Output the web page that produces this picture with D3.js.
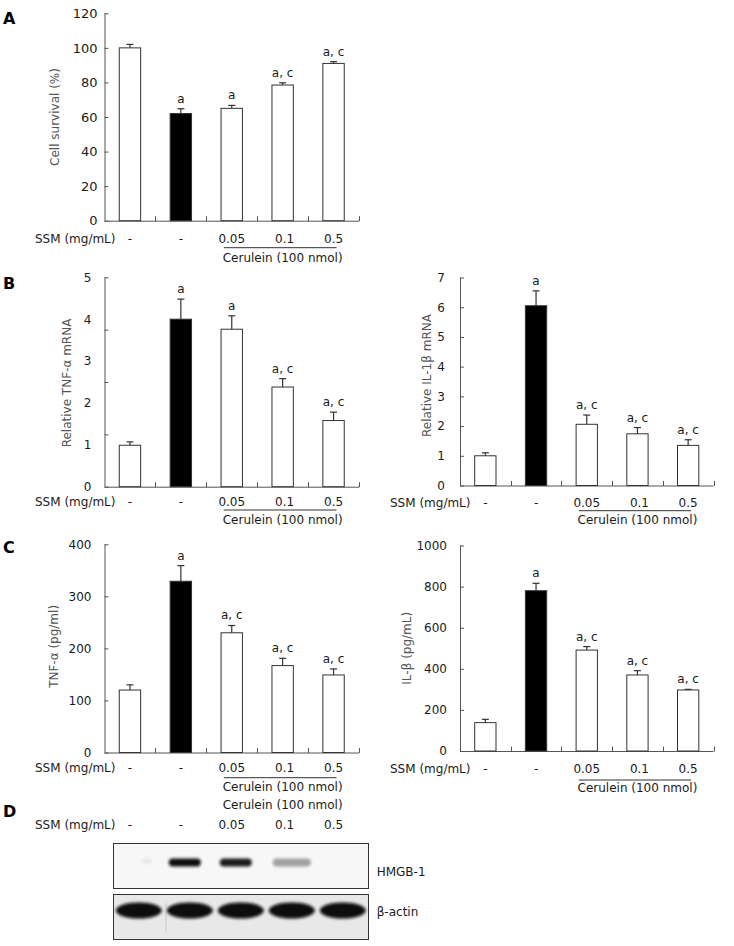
<!DOCTYPE html>
<html>
<head>
<meta charset="utf-8">
<script src="https://cdn.jsdelivr.net/npm/d3@7"></script>
<style>
  html, body { margin: 0; padding: 0; background: #fff; }
  svg { display: block; }
  text { font-family: "DejaVu Sans", Verdana, sans-serif; }
</style>
</head>
<body>
<script>
// ---------------- DATA ----------------
const groups = ["Control", "Cerulein", "SSM 0.05", "SSM 0.1", "SSM 0.5"];
const ssmLabels = ["-", "-", "0.05", "0.1", "0.5"];
const barFill = ["white", "black", "white", "white", "white"];

// Panel A: cell survival (%)
const survivalMean = [100, 62, 65, 78.5, 91];
const survivalErr  = [2, 2.8, 1.7, 1.3, 1.0];
const survivalSig  = ["", "a", "a", "a, c", "a, c"];
const survivalTicks = [0, 20, 40, 60, 80, 100, 120];

// Panel B left: relative TNF-alpha mRNA
const tnfMrnaMean = [0.99, 4.0, 3.76, 2.38, 1.58];
const tnfMrnaErr  = [0.08, 0.48, 0.32, 0.2, 0.2];
const tnfMrnaSig  = ["", "a", "a", "a, c", "a, c"];
const tnfMrnaTickLabels = [0, 1, 2, 3, 4, 5];
const tnfMrnaTickMarks  = [0, 1.25, 2.5, 3.75, 5];

// Panel B right: relative IL-1beta mRNA
const il1bMrnaMean = [1.0, 6.05, 2.06, 1.74, 1.35];
const il1bMrnaErr  = [0.1, 0.5, 0.31, 0.21, 0.19];
const il1bMrnaSig  = ["", "a", "a, c", "a, c", "a, c"];
const il1bMrnaTicks = [0, 1, 2, 3, 4, 5, 6, 7];

// Panel C left: TNF-alpha (pg/ml)
const tnfProtMean = [120, 329, 230, 167, 149];
const tnfProtErr  = [10, 30, 14, 14, 11.5];
const tnfProtSig  = ["", "a", "a, c", "a, c", "a, c"];
const tnfProtTicks = [0, 100, 200, 300, 400];

// Panel C right: IL-beta (pg/mL)
const il1bProtMean = [138, 780, 491, 370, 297];
const il1bProtErr  = [16, 36, 17, 21, 3];
const il1bProtSig  = ["", "a", "a, c", "a, c", "a, c"];
const il1bProtTicks = [0, 200, 400, 600, 800, 1000];

// Panel D: western blot band intensities (relative)
const hmgbIntensity  = [0.08, 1.0, 0.95, 0.38, 0.0];
const actinIntensity = [1, 1, 1, 1, 1];

// ---------------- DRAW ----------------
const W = 734, H = 946;
const svg = d3.select("body").append("svg").attr("width", W).attr("height", H);
const defs = svg.append("defs");
defs.append("filter").attr("id", "blur").attr("x", "-30%").attr("y", "-60%").attr("width", "160%").attr("height", "220%")
  .append("feGaussianBlur").attr("stdDeviation", 1.4);

const AX = "#555", TXT = "#1a1a1a", TTL = "#555";
const fmt = d3.format("d");

function panelLetter(t, x, y) {
  svg.append("text").attr("x", x).attr("y", y).text(t)
    .attr("font-size", 16).attr("font-weight", "bold").attr("fill", "#000");
}

function barPanel(cfg) {
  const g = svg.append("g");
  const x = d3.scaleBand().domain(groups).range([cfg.x0, cfg.x1]).padding(0);
  const y = d3.scaleLinear().domain(cfg.domain).range([cfg.yBot, cfg.yTop]);
  const bw = x.bandwidth() * 0.42;
  const cx = d => x(d) + x.bandwidth() / 2;

  // y axis: tick marks (inside)
  const yAxisMarks = d3.axisRight(y).tickValues(cfg.tickMarks).tickSize(4).tickFormat("");
  const ya = g.append("g").attr("transform", `translate(${cfg.x0},0)`).call(yAxisMarks);
  ya.select(".domain").attr("stroke", AX).attr("d", `M0.5,${cfg.yTop}V${cfg.yBot}`);
  ya.selectAll(".tick line").attr("stroke", AX);
  // y labels
  const yAxisLabels = d3.axisLeft(y).tickValues(cfg.tickLabels).tickSize(0).tickPadding(cfg.labelGap).tickFormat(fmt);
  const yl = g.append("g").attr("transform", `translate(${cfg.x0},0)`).call(yAxisLabels);
  yl.select(".domain").remove();
  yl.selectAll("text").attr("font-size", cfg.tickFont || 12).attr("fill", TXT)
    .attr("font-family", '"DejaVu Sans", Verdana, sans-serif');

  // x axis
  const xa = g.append("g").attr("transform", `translate(0,${cfg.yBot})`);
  xa.append("line").attr("x1", cfg.x0).attr("x2", cfg.x1).attr("y1", 0.5).attr("y2", 0.5).attr("stroke", AX);
  const bounds = groups.map(d => x(d) + x.bandwidth());
  xa.selectAll("line.tk").data(bounds).join("line").attr("class", "tk")
    .attr("x1", d => Math.round(d) + 0.5).attr("x2", d => Math.round(d) + 0.5)
    .attr("y1", -4.5).attr("y2", 0.5).attr("stroke", AX);

  // bars
  g.selectAll("rect.bar").data(cfg.mean).join("rect").attr("class", "bar")
    .attr("x", (d, i) => cx(groups[i]) - bw / 2)
    .attr("y", d => y(d))
    .attr("width", bw)
    .attr("height", d => y(cfg.domain[0]) - y(d))
    .attr("fill", (d, i) => barFill[i])
    .attr("stroke", "#333").attr("stroke-width", 1);

  // error bars
  const eb = g.selectAll("g.eb").data(cfg.mean).join("g").attr("class", "eb");
  eb.append("line")
    .attr("x1", (d, i) => cx(groups[i])).attr("x2", (d, i) => cx(groups[i]))
    .attr("y1", d => y(d)).attr("y2", (d, i) => y(d + cfg.err[i]))
    .attr("stroke", "#333").attr("stroke-width", 1.2);
  eb.append("line")
    .attr("x1", (d, i) => cx(groups[i]) - 3.5).attr("x2", (d, i) => cx(groups[i]) + 3.5)
    .attr("y1", (d, i) => y(d + cfg.err[i])).attr("y2", (d, i) => y(d + cfg.err[i]))
    .attr("stroke", "#333").attr("stroke-width", 1.2);

  // significance labels
  g.selectAll("text.sig").data(cfg.sig).join("text").attr("class", "sig")
    .attr("x", (d, i) => cx(groups[i]))
    .attr("y", (d, i) => y(cfg.mean[i] + cfg.err[i]) - 6)
    .attr("text-anchor", "middle").attr("font-size", 12).attr("fill", TXT)
    .text(d => d);

  // y title
  g.append("text")
    .attr("transform", `translate(${cfg.titleX},${(cfg.yTop + cfg.yBot) / 2 + (cfg.titleDy || 0)}) rotate(-90)`)
    .attr("text-anchor", "middle").attr("dominant-baseline", "central")
    .attr("font-size", 12).attr("fill", TTL).text(cfg.title);

  // SSM row
  g.append("text").attr("x", cfg.ssmX).attr("y", cfg.ssmY).attr("dominant-baseline", "central")
    .attr("font-size", 12).attr("fill", TXT).text("SSM (mg/mL)");
  g.selectAll("text.ssm").data(ssmLabels).join("text").attr("class", "ssm")
    .attr("x", (d, i) => cx(groups[i]) + (i === 3 ? 2 : 0)).attr("y", cfg.ssmY)
    .attr("text-anchor", "middle").attr("dominant-baseline", "central")
    .attr("font-size", 12).attr("fill", TXT).text(d => d);
  g.append("line")
    .attr("x1", cx(groups[2]) - 8).attr("x2", cx(groups[4]) + 3)
    .attr("y1", cfg.lineY).attr("y2", cfg.lineY).attr("stroke", "#333").attr("stroke-width", 1);
  g.append("text").attr("x", cx(groups[3])).attr("y", cfg.cerY)
    .attr("text-anchor", "middle").attr("dominant-baseline", "central")
    .attr("font-size", 12).attr("fill", TXT).text("Cerulein (100 nmol)");
}

panelLetter("A", 3, 24);
barPanel({
  x0: 104.5, x1: 359, yTop: 13.3, yBot: 220.7, domain: [0, 120],
  tickMarks: survivalTicks, tickLabels: survivalTicks, labelGap: 7, tickFont: 13,
  mean: survivalMean, err: survivalErr, sig: survivalSig,
  title: "Cell survival (%)", titleX: 55,
  ssmX: 35, ssmY: 239.3, lineY: 247.7, cerY: 257.7
});

panelLetter("B", 3, 289);
barPanel({
  x0: 104.5, x1: 359, yTop: 277.3, yBot: 486.7, domain: [0, 5],
  tickMarks: tnfMrnaTickMarks, tickLabels: tnfMrnaTickLabels, labelGap: 13,
  mean: tnfMrnaMean, err: tnfMrnaErr, sig: tnfMrnaSig,
  title: "Relative TNF-\u03b1 mRNA", titleX: 67, titleDy: 1,
  ssmX: 35, ssmY: 501.7, lineY: 510, cerY: 520
});
barPanel({
  x0: 460, x1: 713.5, yTop: 277.5, yBot: 485.5, domain: [0, 7],
  tickMarks: il1bMrnaTicks, tickLabels: il1bMrnaTicks, labelGap: 15,
  mean: il1bMrnaMean, err: il1bMrnaErr, sig: il1bMrnaSig,
  title: "Relative IL-1\u03b2 mRNA", titleX: 427, titleDy: -6,
  ssmX: 390, ssmY: 503.3, lineY: 510.7, cerY: 520
});

panelLetter("C", 3, 553);
barPanel({
  x0: 104.5, x1: 359, yTop: 544.3, yBot: 752.5, domain: [0, 400],
  tickMarks: tnfProtTicks, tickLabels: tnfProtTicks, labelGap: 13,
  mean: tnfProtMean, err: tnfProtErr, sig: tnfProtSig,
  title: "TNF-\u03b1 (pg/ml)", titleX: 54, titleDy: -2,
  ssmX: 35, ssmY: 768.3, lineY: 777.7, cerY: 787.3
});
barPanel({
  x0: 460, x1: 713.5, yTop: 545.5, yBot: 751, domain: [0, 1000],
  tickMarks: il1bProtTicks, tickLabels: il1bProtTicks, labelGap: 13,
  mean: il1bProtMean, err: il1bProtErr, sig: il1bProtSig,
  title: "IL-\u03b2 (pg/mL)", titleX: 407, titleDy: 0,
  ssmX: 390, ssmY: 769, lineY: 780, cerY: 788.3
});

// ---------------- Panel D: western blot ----------------
panelLetter("D", 3, 817);
const gd = svg.append("g");
const lane = d3.scaleBand().domain(groups).range([113.3, 368.3]).padding(0);
const lc = d => lane(d) + lane.bandwidth() / 2;
const labX = d3.scaleBand().domain(groups).range([104.5, 359]).padding(0);
gd.append("text").attr("x", labX(groups[3]) + labX.bandwidth() / 2).attr("y", 805)
  .attr("text-anchor", "middle").attr("dominant-baseline", "central")
  .attr("font-size", 12).attr("fill", TXT).text("Cerulein (100 nmol)");
gd.append("text").attr("x", 35).attr("y", 825).attr("dominant-baseline", "central")
  .attr("font-size", 12).attr("fill", TXT).text("SSM (mg/mL)");
gd.selectAll("text.ssm").data(ssmLabels).join("text").attr("class", "ssm")
  .attr("x", (d, i) => labX(groups[i]) + labX.bandwidth() / 2 + (i === 3 ? 2 : 0)).attr("y", 825)
  .attr("text-anchor", "middle").attr("dominant-baseline", "central")
  .attr("font-size", 12).attr("fill", TXT).text(d => d);

// HMGB-1 box
gd.append("rect").attr("x", 113.5).attr("y", 843.5).attr("width", 255).attr("height", 45)
  .attr("fill", "#f7f7f7").attr("stroke", "#333").attr("stroke-width", 1);
const hmgbColor = d3.scaleLinear().domain([0, 1]).range(["#f7f7f7", "#111"]);
gd.selectAll("rect.hb").data(hmgbIntensity).join("rect").attr("class", "hb")
  .attr("x", (d, i) => lc(groups[i]) - 5 - (i === 0 ? -8 : (i === 3 ? 14 : 16)))
  .attr("y", 858.5).attr("width", (d, i) => i === 0 ? 10 : (i === 3 ? 38 : 32)).attr("height", (d, i) => i === 0 ? 5 : 8).attr("rx", 4)
  .attr("fill", d => hmgbColor(d)).attr("filter", "url(#blur)");
gd.append("text").attr("x", 376.7).attr("y", 872).attr("dominant-baseline", "central")
  .attr("font-size", 12).attr("fill", TXT).text("HMGB-1");

// beta-actin box
gd.append("rect").attr("x", 113.5).attr("y", 894.5).attr("width", 255).attr("height", 45)
  .attr("fill", "#e8e8e8").attr("stroke", "#333").attr("stroke-width", 1);
const actinColor = d3.scaleLinear().domain([0, 1]).range(["#e8e8e8", "#0c0c0c"]);
gd.selectAll("ellipse.ab").data(actinIntensity).join("ellipse").attr("class", "ab")
  .attr("cx", (d, i) => lc(groups[i])).attr("cy", 910.5)
  .attr("rx", 23).attr("ry", 8)
  .attr("fill", d => actinColor(d)).attr("filter", "url(#blur)");
gd.append("line").attr("x1", 166).attr("x2", 165.5).attr("y1", 903).attr("y2", 932)
  .attr("stroke", "#888").attr("stroke-width", 1).attr("filter", "url(#blur)").attr("opacity", 0.7);
gd.append("text").attr("x", 376.7).attr("y", 912).attr("dominant-baseline", "central")
  .attr("font-size", 12).attr("fill", TXT).text("\u03b2-actin");
</script>
</body>
</html>
